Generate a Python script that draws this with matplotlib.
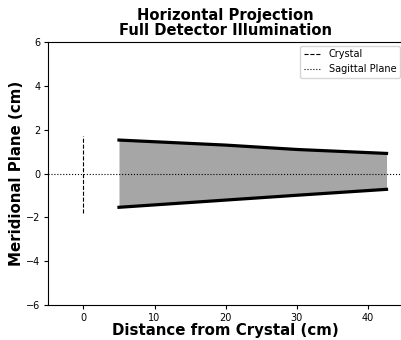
import matplotlib
matplotlib.use("Agg")
import matplotlib.pyplot as plt
import numpy as np

# beam envelope in the horizontal projection (cm)
distance = [5.0, 20.0, 30.0, 42.6]
upper_edge = [1.53, 1.30, 1.10, 0.92]
lower_edge = [-1.54, -1.21, -0.99, -0.72]

crystal_x = [0.0, 0.0]
crystal_y = [-1.8, 1.7]

fig = plt.figure(figsize=(4.02, 3.40), dpi=100)
ax = fig.add_axes([0.119, 0.103, 0.885, 0.773])

ax.fill_between(distance, lower_edge, upper_edge, color="#a6a6a6", linewidth=0)
ax.plot(distance, upper_edge, color="black", linewidth=2.3)
ax.plot(distance, lower_edge, color="black", linewidth=2.3)

ax.plot(crystal_x, crystal_y, color="black", linestyle="--", linewidth=0.8, label="Crystal")
ax.axhline(0, color="black", linestyle=":", linewidth=0.8, label="Sagittal Plane")

ax.set_xlim(-5, 45)
ax.set_ylim(-6, 6)
ax.set_xticks([0, 10, 20, 30, 40])
ax.set_yticks([-6, -4, -2, 0, 2, 4, 6])
ax.tick_params(labelsize=7, length=3, pad=2.5)

ax.set_xlabel("Distance from Crystal (cm)", fontsize=10.8, fontweight="bold", labelpad=0)
ax.set_ylabel("Meridional Plane (cm)", fontsize=10.8, fontweight="bold", labelpad=1)
ax.set_title("Horizontal Projection\nFull Detector Illumination", fontsize=10.6,
             fontweight="bold", linespacing=1.0, pad=5)

ax.legend(loc="upper right", fontsize=7, handlelength=1.7, borderaxespad=0.35)

fig.savefig("out.png", dpi=100)
